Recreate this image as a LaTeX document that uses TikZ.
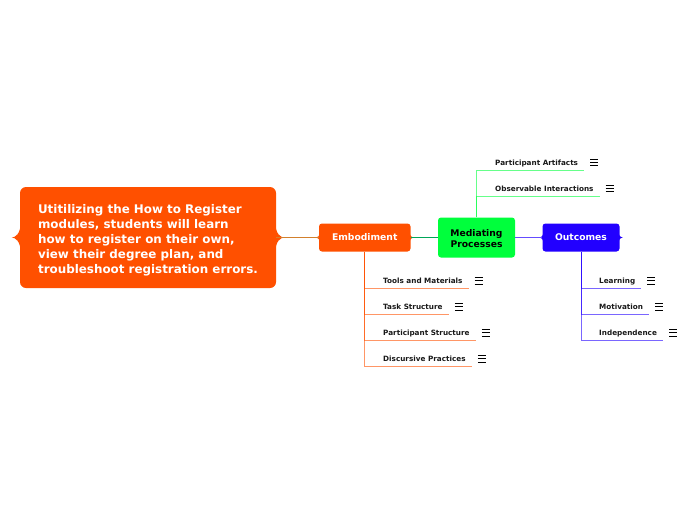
\documentclass[tikz,border=0pt]{standalone}
\usepackage{xcolor}
\usepackage{fontspec}
\setmainfont{DejaVu Sans}
\usepackage{tikz}

\definecolor{embcolor}{HTML}{FF5000}
\definecolor{medcolor}{HTML}{00FF3C}
\definecolor{outcolor}{HTML}{2200FF}

\newcommand{\nodetips}[4]{
  \foreach \side/\dir in {west/-1,east/1}{
    \fill[#2] (#1.\side) ++(-\dir,-#4) .. controls +(0,#4*0.8) and +(-\dir*#3*0.4,0) .. ++(\dir*#3+\dir,#4)
      .. controls +(-\dir*#3*0.4,0) and +(0,-#4*0.8) .. ++(-\dir*#3-\dir,#4) -- cycle;
  }
}
\newcommand{\menuicon}[1]{
  \foreach \k in {-3.3,0,3.3}{
    \draw[black,line width=0.8pt,shift={(#1.south east)}] (6,-7.7+\k) -- (14,-7.7+\k);
  }
}

\begin{document}
\begin{tikzpicture}[x=1pt,y=-1pt,
    topic/.style={rounded corners=3pt,align=center,inner sep=0pt,font=\fontsize{9.2}{11.5}\selectfont\bfseries},
    single/.style={text height=8pt,text depth=1.5pt},
    leaf/.style={anchor=south west,inner xsep=6pt,inner ysep=3pt,text height=5.5pt,text depth=1.5pt,text=black!90,font=\fontsize{7.25}{8}\selectfont\bfseries},
    link/.style={line width=1pt,draw opacity=0.6}]
  \useasboundingbox (0,0) rectangle (696,520);

  \node[topic,fill=embcolor,text=white,rounded corners=6pt,minimum width=256pt,minimum height=101pt,align=left,
    font=\fontsize{11.9}{15}\selectfont\bfseries](goal) at (148,237.5)
    {\rule{0pt}{14pt}Utitilizing the How to Register\\modules, students will learn\\how to register on their own,\\view their degree plan, and\\troubleshoot registration errors.};
  \node[topic,single,fill=embcolor,text=white,minimum width=91.5pt,minimum height=28pt](embodiment) at (364.75,237.5){Embodiment};
  \node[topic,fill=medcolor,text=black,minimum width=77pt,minimum height=40pt](mediating) at (476.5,237.5){\rule{0pt}{9.5pt}Mediating\\Processes};
  \node[topic,single,fill=outcolor,text=white,minimum width=77pt,minimum height=28pt](outcomes) at (581,237.5){Outcomes};

  \nodetips{goal}{embcolor}{8}{16}
  \nodetips{embodiment}{embcolor}{3}{5}
  \nodetips{outcomes}{outcolor}{3}{5}

  \draw[line width=0.9pt,color=brown!70!orange] (goal.east) -- (embodiment.west);
  \draw[line width=0.9pt,color=teal!70!green] (embodiment.east) -- (mediating.west);
  \draw[line width=0.9pt,color=outcolor!70] (mediating.east) -- (outcomes.west);

  % mediating processes
  \foreach \name/\txt/\y in {artifacts/Participant Artifacts/170,interactions/Observable Interactions/196}{
    \node[leaf](\name) at (489,\y){\txt};
    \draw[link,medcolor] (mediating.north) |- (\name.south east);
    \menuicon{\name}
  }
  % embodiment
  \foreach \name/\txt/\y in {tools/Tools and Materials/288.3,task/Task Structure/314.3,structure/Participant Structure/340.4,practices/Discursive Practices/366.4}{
    \node[leaf](\name) at (377,\y){\txt};
    \draw[link,embcolor] (embodiment.south) |- (\name.south east);
    \menuicon{\name}
  }
  % outcomes
  \foreach \name/\txt/\y in {learning/Learning/288.5,motivation/Motivation/314.5,independence/Independence/340.5}{
    \node[leaf](\name) at (593,\y){\txt};
    \draw[link,outcolor] (outcomes.south) |- (\name.south east);
    \menuicon{\name}
  }
\end{tikzpicture}
\end{document}
